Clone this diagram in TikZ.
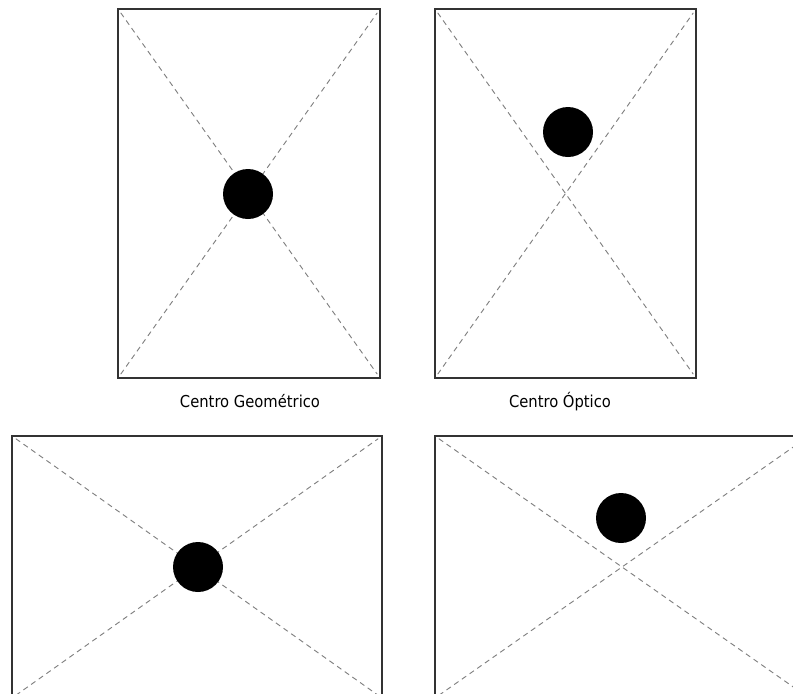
\documentclass[tikz,border=0pt]{standalone}
\usepackage{fontspec}
\setmainfont{DejaVu Sans Condensed}
\begin{document}
\begin{tikzpicture}[x=0.03cm, y=-0.03cm,
    marco/.style={draw=black!80, line width=1.3pt},
    diag/.style={draw=gray, line width=0.8pt, dash pattern=on 4.5pt off 3.5pt, shorten <=4pt, shorten >=4pt},
    punto/.style={circle, fill=black, inner sep=0pt, minimum size=1.5cm},
    rotulo/.style={font=\fontsize{14}{16}\selectfont, anchor=base}]
    % 1. Marco de la imagen
    \useasboundingbox (0,0) rectangle (793,693);
    \clip (0,0) rectangle (793,693);

    % 2. Esquinas de los rectángulos
    \coordinate (geoA) at (118,9);   \coordinate (geoB) at (380,378);
    \coordinate (optA) at (435,9);   \coordinate (optB) at (696,378);
    \coordinate (hgeoA) at (12,436); \coordinate (hgeoB) at (382,698);
    \coordinate (hoptA) at (435,436); \coordinate (hoptB) at (809,698);

    % 3. Rectángulos
    \draw[marco] (geoA) rectangle (geoB);
    \draw[marco] (optA) rectangle (optB);
    \draw[marco] (hgeoA) rectangle (hgeoB);
    \draw[marco] (hoptA) rectangle (hoptB);

    % 4. Diagonales
    \draw[diag] (geoA) -- (geoB);   \draw[diag] (geoA |- geoB) -- (geoB |- geoA);
    \draw[diag] (optA) -- (optB);   \draw[diag] (optA |- optB) -- (optB |- optA);
    \draw[diag] (hgeoA) -- (hgeoB); \draw[diag] (hgeoA |- hgeoB) -- (hgeoB |- hgeoA);
    \draw[diag] (hoptA) -- (hoptB); \draw[diag] (hoptA |- hoptB) -- (hoptB |- hoptA);

    % 5. Puntos
    \node[punto] (pGeo) at (248,194) {};
    \node[punto] (pOpt) at (568,132) {};
    \node[punto] (phGeo) at (198,567) {};
    \node[punto] (phOpt) at (621,518) {};

    % 6. Rótulos
    \node[rotulo] (tGeo) at (250,407) {Centro Geométrico};
    \node[rotulo] (tOpt) at (560,407) {Centro Óptico};
\end{tikzpicture}
\end{document}
